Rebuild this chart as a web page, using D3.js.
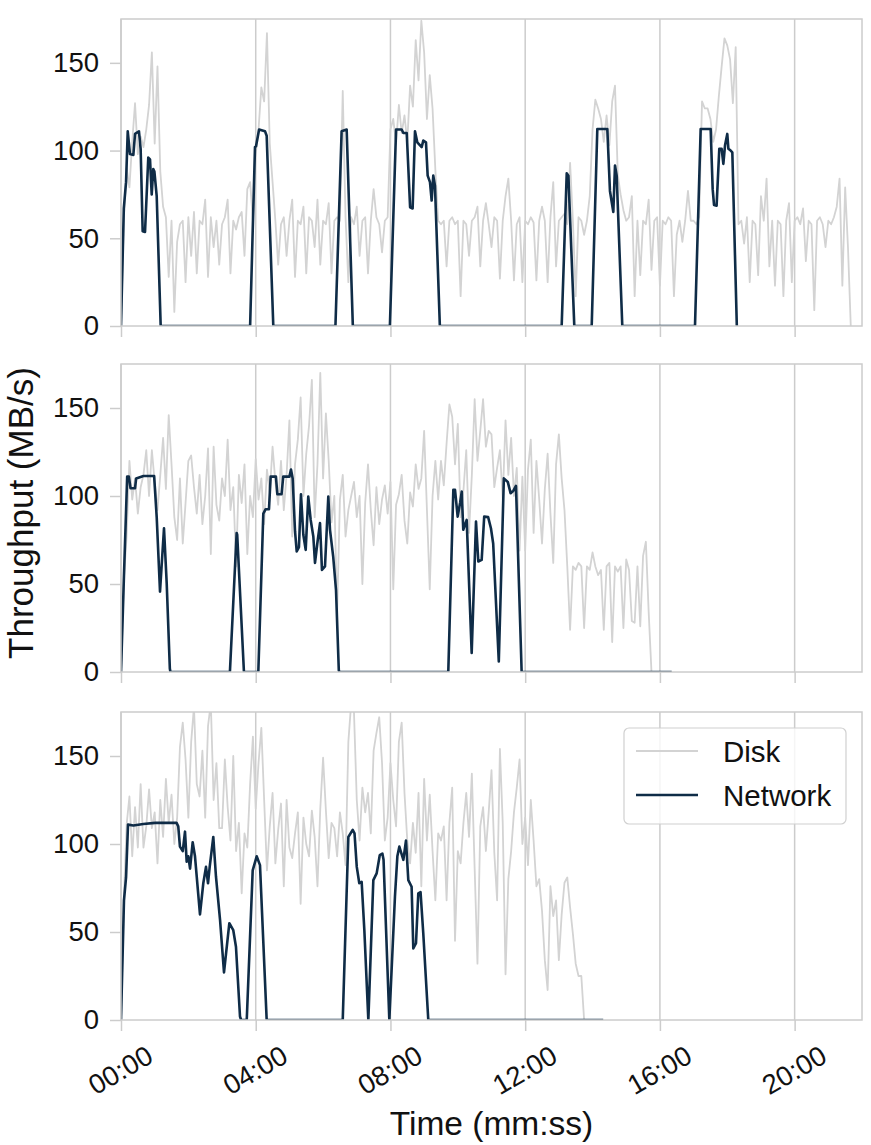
<!DOCTYPE html>
<html>
<head>
<meta charset="utf-8">
<script src="https://cdn.jsdelivr.net/npm/d3@7"></script>
<style>
  body { margin: 0; background: #fff; }
  text { font-family: "Liberation Sans", Arial, sans-serif; fill: #111; }
</style>
</head>
<body>
<script>
// disk samples are every 5 s, starting at 00:00
var diskStep = 5;

var disk1 = [
  0, 61, 90, 79, 105, 127, 98, 108, 102, 112, 126, 156,
  104, 148, 88, 68, 62, 28, 60, 8, 48, 58, 60, 25,
  62, 40, 65, 30, 60, 58, 72, 28, 62, 45, 60, 35,
  58, 62, 72, 30, 60, 55, 62, 65, 40, 78, 82, 60,
  98, 112, 136, 128, 167, 104, 82, 60, 35, 58, 62, 40,
  60, 72, 28, 60, 58, 68, 30, 62, 60, 45, 72, 35,
  60, 58, 70, 30, 60, 62, 60, 134, 62, 25, 62, 58,
  68, 40, 60, 62, 30, 60, 78, 62, 58, 42, 60, 62,
  112, 118, 104, 126, 110, 120, 105, 137, 125, 163, 140, 174,
  156, 118, 143, 124, 89, 60, 58, 60, 34, 60, 62, 58,
  60, 17, 60, 58, 40, 60, 62, 68, 34, 60, 70, 58,
  45, 62, 60, 27, 60, 74, 84, 60, 26, 58, 62, 25,
  60, 58, 62, 59, 26, 60, 68, 60, 25, 62, 82, 34,
  60, 62, 64, 58, 93, 60, 17, 62, 60, 52, 60, 74,
  112, 129, 124, 118, 105, 120, 103, 128, 137, 86, 75, 66,
  60, 62, 74, 17, 60, 29, 60, 58, 72, 32, 60, 62,
  23, 60, 58, 62, 60, 17, 52, 60, 48, 60, 77, 60,
  60, 58, 62, 128, 124, 124, 118, 105, 112, 131, 148, 164,
  160, 152, 127, 159, 58, 60, 47, 62, 25, 60, 58, 29,
  74, 60, 84, 34, 60, 23, 60, 58, 17, 60, 70, 25,
  60, 62, 58, 67, 37, 60, 58, 9, 60, 62, 58, 45,
  60, 58, 62, 68, 84, 23, 79, 45, 0
];

var disk2 = [
  0, 52, 77, 120, 98, 110, 90, 105, 112, 126, 100, 126,
  108, 92, 112, 133, 104, 146, 118, 88, 75, 110, 73, 96,
  120, 123, 105, 90, 112, 84, 100, 127, 67, 128, 95, 86,
  110, 100, 132, 92, 105, 60, 112, 96, 118, 67, 100, 88,
  121, 98, 110, 84, 115, 102, 128, 108, 95, 120, 92, 112,
  143, 77, 118, 132, 156, 100, 124, 140, 166, 88, 118, 170,
  110, 147, 120, 85, 100, 33, 98, 112, 77, 92, 100, 108,
  88, 100, 50, 96, 118, 92, 72, 105, 84, 98, 106, 90,
  108, 47, 95, 101, 112, 86, 73, 102, 94, 118, 104, 110,
  137, 92, 47, 100, 120, 98, 120, 106, 130, 152, 145, 118,
  141, 88, 103, 126, 79, 112, 155, 120, 137, 155, 128, 137,
  135, 105, 116, 126, 98, 143, 112, 133, 100, 116, 69, 111,
  69, 115, 132, 79, 120, 98, 73, 104, 124, 90, 62, 118,
  135, 110, 92, 60, 24, 60, 58, 62, 60, 25, 60, 58,
  68, 60, 55, 58, 24, 60, 62, 17, 60, 57, 60, 25,
  64, 58, 29, 28, 60, 26, 66, 74, 34, 0
];

var disk3 = [
  0, 68, 111, 127, 93, 121, 98, 134, 98, 110, 131, 109,
  118, 89, 125, 104, 137, 112, 128, 100, 115, 155, 169, 148,
  115, 158, 178, 134, 127, 153, 115, 167, 180, 125, 146, 109,
  109, 148, 121, 102, 150, 96, 112, 72, 106, 98, 134, 161,
  120, 146, 166, 125, 85, 110, 129, 89, 108, 123, 76, 125,
  98, 92, 106, 118, 66, 115, 100, 93, 119, 104, 76, 120,
  149, 119, 92, 112, 109, 93, 118, 106, 88, 158, 180, 175,
  125, 102, 132, 118, 129, 106, 153, 163, 172, 146, 102, 115,
  146, 125, 110, 158, 169, 129, 102, 89, 112, 95, 129, 76,
  137, 102, 128, 96, 68, 106, 102, 110, 68, 112, 132, 45,
  96, 89, 112, 129, 104, 140, 86, 32, 110, 121, 96, 118,
  142, 95, 68, 154, 112, 26, 80, 96, 118, 132, 148, 100,
  115, 88, 125, 102, 76, 80, 62, 34, 17, 76, 59, 68,
  34, 60, 78, 81, 64, 49, 32, 25, 25, 0
];

// network: [seconds, MB/s] breakpoints
var net1 = [
  [0,0],[5,67],[9,82],[12,111],[16,98],[22,97.5],[25,109.5],[32,111],[35,101],[38.6,54],[42.8,53.6],
  [48.6,96],[51.7,95],[54.7,75],[57.5,89.5],[59.5,88],[63.6,74],[70.7,0],
  [230,0],[238.7,102],[240.5,102.5],[246,112],[256.5,111],[259.5,108.5],[271.3,0],
  [382,0],[393,111],[402,112],[413,0],
  [479,0],[490,112],[500,112],[503,110],[509,110],[515,67.7],[519.5,67],[523.7,111],[527.8,104.7],
  [535.6,102],[538.5,105.7],[543.3,104.7],[546.3,85.7],[550.4,82],[553.4,71.5],[556.3,85.7],[559.3,80],[568,0],
  [785,0],[794,87],[797,85.7],[807.5,0],
  [838.5,0],[848.5,112.3],[866.3,112.3],[871,77],[877,65],[880,91.5],[883,85.7],[893,0],
  [1022.5,0],[1032.6,112.3],[1050.4,112.3],[1054,78],[1056.4,69],[1061,68.6],[1065.8,101],[1070,101],
  [1073,92.4],[1076,103],[1080,109.5],[1082,101],[1086,100],[1089,99],[1097,0]
];

var net2 = [
  [0,0],[5,52],[11,111],[14,111],[17,104.4],[25,104.4],[27,110],[40,111.4],[59,111.4],[63.6,88],
  [69.5,45.7],[76.6,81.7],[81.4,50.5],[87,2],[88,0],
  [194,0],[206,79],[207,78],[219,0],
  [244.6,0],[253.5,90],[257.7,92.5],[263.6,92.5],[266.6,111],[276,111],[278.5,101],[286,101],[289,111],
  [300,111],[302.8,115],[305.8,110],[310,80],[313,68.5],[317,71],[320.6,101],[324.8,78],[329,69.4],
  [333.6,99.7],[337.9,86.4],[342.6,77],[345.6,62],[349.7,73],[354.5,84.6],[358,58],[363.4,60],
  [369.3,99.7],[372.3,80.8],[378,65.6],[383,46.7],[388,1],[389,0],
  [583,0],[592,103.5],[595,103.5],[599.7,88.3],[604,96],[607,102.5],[609.7,80.8],[615.8,86.4],
  [624.7,10.8],[632.4,85.5],[636.5,62.8],[642.5,63.7],[647,88.3],[654,88],[659,81.7],[663,73],
  [673,6],[682,110],[689,108],[694,101.6],[699,103],[703.6,105.7],[713.7,0],[981,0]
];

var net3 = [
  [0,0],[5.3,68],[9,81],[12.5,111],[22,110.5],[39.7,111.4],[60.6,112],[99,112],[102,110],[105,98.5],
  [110,96],[114,107],[117,90],[120,93],[123,86],[127.7,101],[131.8,93],[140.7,60],[146.6,77.7],
  [151.4,87],[155,77.7],[158,87],[164.4,104],[169.2,81.4],[176.4,57],[183.5,27],[193,55],[200,51],
  [204.8,41.6],[212,2],[214,0],[224,0],[234.6,85],[241.7,93],[247.6,88],[259.5,0],
  [395,0],[405,104],[412.7,108],[416,106],[420,87],[424.5,77.7],[428.7,78.5],[433.5,51],[440.6,0],
  [449.5,79.5],[455.4,83.3],[461,93.7],[465.6,94.6],[467.7,91],[478,0],[488,70],[492.3,93],
  [495.8,98.5],[503,91],[507.7,102],[511.8,79.5],[517.7,75.7],[520.7,40.7],[525.5,43.6],
  [529.6,72],[533.6,72.7],[538.5,49],[547.4,0],[859,0]
];

var yTicks = [0, 50, 100, 150];
var xTicks = [0, 240, 480, 720, 960, 1200];
var seriesNames = ["Disk", "Network"];

var width = 871, height = 1145;
var gridColor = "#cccccc", diskColor = "#d3d3d3", netColor = "#0f2c47";

var svg = d3.select("body").append("svg")
  .attr("width", width)
  .attr("height", height);

var x = d3.scaleLinear().domain([0, 1320]).range([121, 862]);

var panels = [
  { top: 19, bottom: 326, disk: disk1, net: net1 },
  { top: 364, bottom: 672, disk: disk2, net: net2 },
  { top: 712, bottom: 1020, disk: disk3, net: net3 }
];

function mmss(s) {
  var m = Math.floor(s / 60), r = s % 60;
  return String(m).padStart(2, "0") + ":" + String(r).padStart(2, "0");
}

panels.forEach(function(p, i) {
  var y = d3.scaleLinear().domain([0, 175]).range([p.bottom, p.top]);
  var g = svg.append("g");

  svg.append("clipPath").attr("id", "clip" + i)
    .append("rect")
    .attr("x", x(0)).attr("y", p.top)
    .attr("width", x(1320) - x(0)).attr("height", p.bottom - p.top);

  // vertical grid lines
  g.selectAll(".grid")
    .data(xTicks)
    .enter().append("line")
    .attr("x1", function(d) { return x(d); })
    .attr("x2", function(d) { return x(d); })
    .attr("y1", p.top).attr("y2", p.bottom)
    .attr("stroke", gridColor)
    .attr("stroke-width", 1.5);

  var plot = g.append("g").attr("clip-path", "url(#clip" + i + ")");

  var diskLine = d3.line()
    .x(function(d, j) { return x(j * diskStep); })
    .y(function(d) { return y(d); });

  plot.append("path")
    .datum(p.disk)
    .attr("d", diskLine)
    .attr("fill", "none")
    .attr("stroke", diskColor)
    .attr("stroke-width", 1.8)
    .attr("stroke-linejoin", "round");

  var netLine = d3.line()
    .x(function(d) { return x(d[0]); })
    .y(function(d) { return y(d[1]); });

  plot.append("path")
    .datum(p.net)
    .attr("d", netLine)
    .attr("fill", "none")
    .attr("stroke", netColor)
    .attr("stroke-width", 2.6)
    .attr("stroke-linejoin", "round");

  // frame
  g.append("rect")
    .attr("x", x(0)).attr("y", p.top)
    .attr("width", x(1320) - x(0)).attr("height", p.bottom - p.top)
    .attr("fill", "none")
    .attr("stroke", gridColor)
    .attr("stroke-width", 1.5);

  // y axis
  var ya = g.append("g")
    .attr("transform", "translate(" + x(0) + ",0)")
    .call(d3.axisLeft(y).tickValues(yTicks).tickSize(11).tickPadding(11));
  ya.select(".domain").remove();
  ya.selectAll(".tick line").attr("stroke", gridColor).attr("stroke-width", 1.5);
  ya.selectAll(".tick text")
    .style("font-family", "'Liberation Sans', Arial, sans-serif")
    .style("font-size", "27.5px")
    .attr("fill", "#111");

  // x axis
  var xa = g.append("g")
    .attr("transform", "translate(0," + p.bottom + ")")
    .call(d3.axisBottom(x).tickValues(xTicks).tickFormat(mmss).tickSize(11));
  xa.select(".domain").remove();
  xa.selectAll(".tick line").attr("stroke", gridColor).attr("stroke-width", 1.5);
  if (i < panels.length - 1) {
    xa.selectAll(".tick text").remove();
  } else {
    xa.selectAll(".tick text")
      .attr("y", 0)
      .attr("dy", "0.35em")
      .attr("text-anchor", "middle")
      .attr("transform", "translate(-1,50) rotate(-30)")
      .style("font-family", "'Liberation Sans', Arial, sans-serif")
      .style("font-size", "27.5px")
      .attr("fill", "#111");
  }

  // legend on the last panel
  if (i === panels.length - 1) {
    var leg = g.append("g");
    leg.append("rect")
      .attr("x", 624).attr("y", 728)
      .attr("width", 222).attr("height", 96)
      .attr("rx", 5)
      .attr("fill", "#fff").attr("fill-opacity", 0.8)
      .attr("stroke", "#d0d0d0").attr("stroke-width", 1.2);
    var items = leg.selectAll(".item")
      .data(seriesNames)
      .enter().append("g")
      .attr("transform", function(d, k) { return "translate(0," + (751 + k * 44) + ")"; });
    items.append("line")
      .attr("x1", 636).attr("x2", 698)
      .attr("stroke", function(d, k) { return k === 0 ? diskColor : netColor; })
      .attr("stroke-width", function(d, k) { return k === 0 ? 1.8 : 2.6; });
    items.append("text")
      .attr("x", 723).attr("dy", "0.36em")
      .style("font-size", "29.5px")
      .text(function(d) { return d; });
  }
});

// axis titles
svg.append("text")
  .attr("x", (x(0) + x(1320)) / 2)
  .attr("y", 1135)
  .attr("text-anchor", "middle")
  .style("font-size", "33.5px")
  .text("Time (mm:ss)");

svg.append("text")
  .attr("transform", "translate(33,513) rotate(-90)")
  .attr("text-anchor", "middle")
  .style("font-size", "35px")
  .text("Throughput (MB/s)");
</script>
</body>
</html>
